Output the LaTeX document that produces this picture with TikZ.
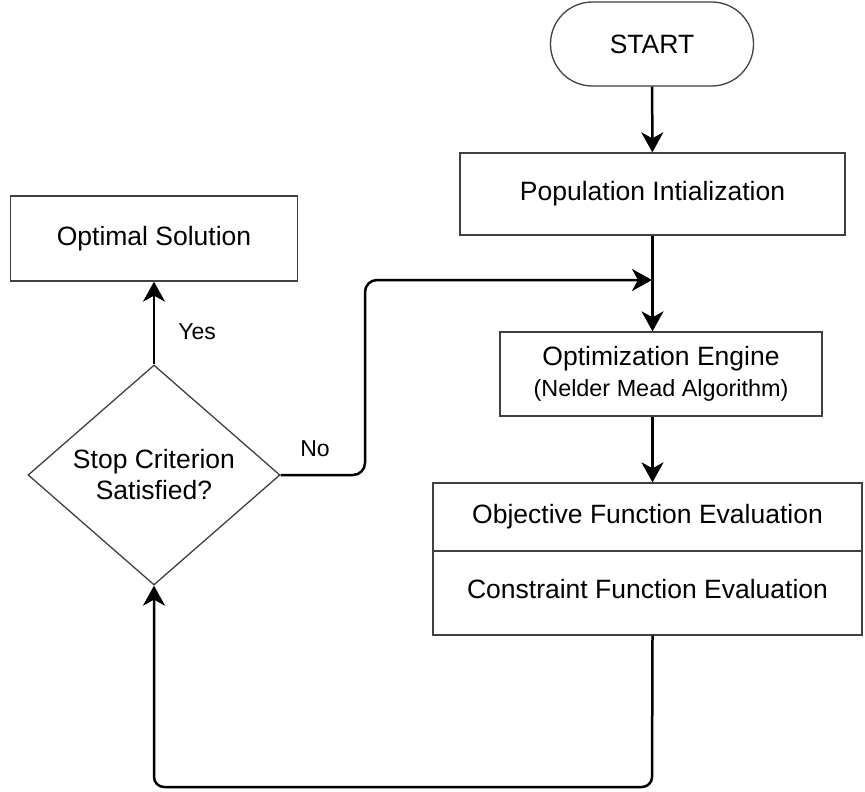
\documentclass[tikz,border=0pt]{standalone}
\usepackage{fontspec}
\setmainfont{Liberation Sans}
\usetikzlibrary{shapes.geometric,arrows.meta}
\begin{document}
\begin{tikzpicture}[x=0.5pt,y=-0.5pt,
  box/.style={draw=black!75, line width=0.65pt, rectangle, inner sep=0pt,
    font=\fontsize{13.25pt}{15.5pt}\selectfont, align=center},
  flow/.style={line width=1.25pt, -{Stealth[length=10pt,width=11pt,inset=3pt]}},
  lab/.style={font=\fontsize{11.5pt}{14pt}\selectfont, inner sep=0pt}]
\useasboundingbox (0,0) rectangle (865,791);

\node[box, minimum width=101.5pt, minimum height=42pt, rounded corners=20.9pt] (start) at (652,44) {START};
\node[box, minimum width=192.5pt, minimum height=41pt] (pop) at (652.5,194) {Population Intialization};
\node[box, minimum width=161pt, minimum height=42pt] (opt) at (661,374)
  {Optimization Engine\\{\fontsize{11.7pt}{15.5pt}\selectfont (Nelder Mead Algorithm)}};
\node[box, minimum width=214.5pt, minimum height=34pt] (obj) at (647.5,517) {Objective Function Evaluation};
\node[box, minimum width=214.5pt, minimum height=42pt] (con) at (647.5,593) {};
\node[font=\fontsize{13.25pt}{15.5pt}\selectfont, inner sep=0pt] (contxt) at (647.5,589) {Constraint Function Evaluation};
\node[box, minimum width=143.5pt, minimum height=42.5pt] (sol) at (154,238.5) {Optimal Solution};
\node[box, shape=diamond, aspect=1.145, minimum width=126pt, minimum height=110pt] (dia) at (154,475)
  {Stop Criterion\\Satisfied?};

\coordinate (j) at (652,280);

\draw[flow] (start) -- (pop);
\draw[flow] (pop.south) -- (pop.south |- opt.north);
\draw[flow] (pop.south |- opt.south) -- (pop.south |- obj.north);
\draw[flow, rounded corners=5pt] (pop.south |- con.south) -- (652,787) -- (154,787) -- (dia.south);
\draw[flow] (dia.north) -- (sol.south);
\draw[flow, rounded corners=6pt] (dia.east) -- (365,475) -- (365,280) -- (j);

\node[lab, anchor=west] (yes) at (178,332) {Yes};
\node[lab] (no) at (315,449) {No};
\end{tikzpicture}
\end{document}
